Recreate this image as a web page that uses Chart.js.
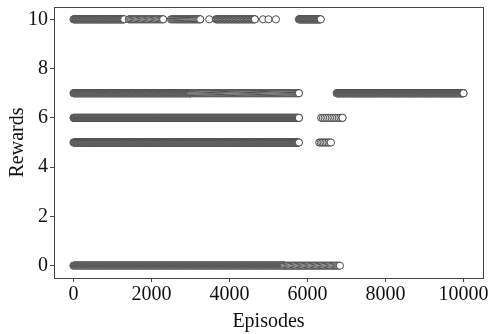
<!DOCTYPE html>
<html>
<head>
<meta charset="utf-8">
<script src="https://cdn.jsdelivr.net/npm/chart.js@4.4.0/dist/chart.umd.min.js"></script>
<style>
  html, body { margin: 0; padding: 0; background: #fff; }
  #wrap { width: 488px; height: 334px; }
</style>
</head>
<body>
<div id="wrap"><canvas id="rewards"></canvas></div>
<script>
// reward levels seen in the plot
const rewardLevels = [0, 5, 6, 7, 10];

// episode runs per reward: [first episode, last episode, spacing between plotted episodes]
const runs0 = [[0, 5400, 10], [5400, 6830, 30]];
const runs5 = [[0, 5780, 12], [6300, 6600, 40]];
const runs6 = [[0, 5780, 10], [6350, 6900, 45]];
const runs7 = [[0, 3000, 12], [3000, 5780, 25], [6750, 10000, 10]];
const runs10 = [[0, 1300, 15], [1420, 2300, 30], [2500, 3250, 25], [3650, 4650, 20], [5780, 6340, 12]];

// isolated episodes
const singles10 = [3480, 4860, 5000, 5190];

const xTicks = [0, 2000, 4000, 6000, 8000, 10000];
const yTicks = [0, 2, 4, 6, 8, 10];

const runsByReward = { 0: runs0, 5: runs5, 6: runs6, 7: runs7, 10: runs10 };
const singlesByReward = { 10: singles10 };

// turn runs of episodes into scatter points
function pointsFor(reward) {
  const pts = [];
  (runsByReward[reward] || []).forEach(([a, b, step]) => {
    for (let ep = a; ep <= b; ep += step) pts.push({ x: ep, y: reward });
    pts.push({ x: b, y: reward });
  });
  (singlesByReward[reward] || []).forEach(ep => pts.push({ x: ep, y: reward }));
  return pts.sort((p, q) => p.x - q.x);
}

const edge = '#4a4a4a';
const font = { family: 'Liberation Serif', size: 20 };

// matplotlib-like box around the plot area
const frame = {
  id: 'frame',
  afterDraw(chart) {
    const { ctx, chartArea: a } = chart;
    ctx.save();
    ctx.strokeStyle = '#444';
    ctx.lineWidth = 1;
    ctx.strokeRect(Math.round(a.left) + 0.5, Math.round(a.top) + 0.5,
      Math.round(a.right - a.left), Math.round(a.bottom - a.top));
    ctx.restore();
  }
};

new Chart(document.getElementById('rewards'), {
  type: 'scatter',
  data: {
    datasets: rewardLevels.map(r => ({
      label: 'reward ' + r,
      data: pointsFor(r),
      pointRadius: 3.6,
      pointBorderWidth: 1,
      pointBackgroundColor: '#ffffff',
      pointBorderColor: edge
    }))
  },
  options: {
    responsive: true,
    maintainAspectRatio: false,
    animation: false,
    layout: { padding: { top: 7, right: 5, left: 0, bottom: 0 } },
    plugins: { legend: { display: false }, tooltip: { enabled: false } },
    scales: {
      x: {
        type: 'linear',
        min: -500,
        max: 10500,
        afterBuildTicks: s => { s.ticks = xTicks.map(v => ({ value: v })); },
        afterFit: s => { s.height = 56; s.paddingLeft = 0; s.paddingRight = 0; },
        grid: { drawOnChartArea: false, drawTicks: true, tickLength: 4, color: '#444' },
        border: { color: '#444' },
        ticks: { font, color: '#111', padding: 1, maxRotation: 0, callback: v => String(v) },
        title: { display: true, text: 'Episodes', font, color: '#111', padding: { top: 0, bottom: 0 } }
      },
      y: {
        type: 'linear',
        min: -0.5,
        max: 10.5,
        afterBuildTicks: s => { s.ticks = yTicks.map(v => ({ value: v })); },
        afterFit: s => { s.width = 54; s.paddingTop = 0; s.paddingBottom = 0; },
        grid: { drawOnChartArea: false, drawTicks: true, tickLength: 4, color: '#444' },
        border: { color: '#444' },
        ticks: { font, color: '#111', padding: 2, callback: v => String(v) },
        title: { display: true, text: 'Rewards', font, color: '#111', padding: { top: 6, bottom: 0 } }
      }
    }
  },
  plugins: [frame]
});
</script>
</body>
</html>
